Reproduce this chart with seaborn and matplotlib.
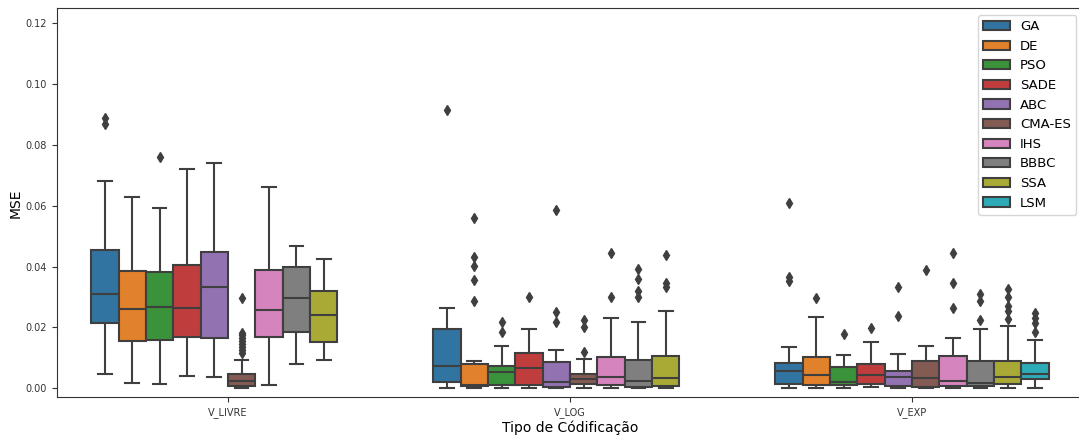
import matplotlib
matplotlib.use("Agg")
import matplotlib.pyplot as plt
import seaborn as sns
import pandas as pd

categories = ["V_LIVRE", "V_LOG", "V_EXP"]
algorithms = ["GA", "DE", "PSO", "SADE", "ABC", "CMA-ES", "IHS", "BBBC", "SSA", "LSM"]

# box summaries: (low whisker, q1, median, q3, high whisker)
v_livre_stats = {
    "GA": (0.0046, 0.0214, 0.0311, 0.0455, 0.0681),
    "DE": (0.0018, 0.0154, 0.0261, 0.0386, 0.0630),
    "PSO": (0.0013, 0.0158, 0.0266, 0.0382, 0.0594),
    "SADE": (0.0041, 0.0168, 0.0265, 0.0405, 0.0721),
    "ABC": (0.0037, 0.0166, 0.0333, 0.0448, 0.0740),
    "CMA-ES": (0.0000, 0.0007, 0.0024, 0.0046, 0.0094),
    "IHS": (0.0009, 0.0169, 0.0256, 0.0389, 0.0662),
    "BBBC": (0.0081, 0.0185, 0.0298, 0.0399, 0.0468),
    "SSA": (0.0093, 0.0151, 0.0241, 0.0320, 0.0426),
}
v_log_stats = {
    "GA": (0.0000, 0.0022, 0.0073, 0.0196, 0.0263),
    "DE": (0.0000, 0.0008, 0.0011, 0.0079, 0.0091),
    "PSO": (0.0000, 0.0010, 0.0053, 0.0074, 0.0140),
    "SADE": (0.0000, 0.0010, 0.0068, 0.0116, 0.0196),
    "ABC": (0.0000, 0.0005, 0.0020, 0.0087, 0.0127),
    "CMA-ES": (0.0000, 0.0013, 0.0030, 0.0047, 0.0097),
    "IHS": (0.0000, 0.0009, 0.0038, 0.0104, 0.0230),
    "BBBC": (0.0000, 0.0003, 0.0025, 0.0093, 0.0219),
    "SSA": (0.0000, 0.0008, 0.0034, 0.0107, 0.0255),
}
v_exp_stats = {
    "GA": (0.0000, 0.0013, 0.0055, 0.0083, 0.0134),
    "DE": (0.0000, 0.0010, 0.0043, 0.0103, 0.0235),
    "PSO": (0.0000, 0.0011, 0.0020, 0.0070, 0.0110),
    "SADE": (0.0003, 0.0015, 0.0043, 0.0078, 0.0152),
    "ABC": (0.0000, 0.0007, 0.0036, 0.0057, 0.0113),
    "CMA-ES": (0.0000, 0.0003, 0.0033, 0.0090, 0.0140),
    "IHS": (0.0000, 0.0008, 0.0025, 0.0106, 0.0166),
    "BBBC": (0.0000, 0.0008, 0.0017, 0.0089, 0.0195),
    "SSA": (0.0000, 0.0013, 0.0036, 0.0090, 0.0205),
    "LSM": (0.0000, 0.0030, 0.0047, 0.0084, 0.0160),
}

# outliers
v_livre_out = {
    "GA": [0.087, 0.089],
    "PSO": [0.0761],
    "CMA-ES": [0.0115, 0.0125, 0.0135, 0.0145, 0.0155, 0.0165, 0.0175, 0.0181, 0.0296],
}
v_log_out = {
    "GA": [0.0917],
    "DE": [0.0287, 0.0356, 0.0403, 0.0431, 0.0561],
    "PSO": [0.0184, 0.0219],
    "SADE": [0.0301],
    "ABC": [0.0219, 0.0251, 0.0585],
    "CMA-ES": [0.0119, 0.0203, 0.0225],
    "IHS": [0.0301, 0.0446],
    "BBBC": [0.0300, 0.0321, 0.0360, 0.0392],
    "SSA": [0.0334, 0.0347, 0.0437],
}
v_exp_out = {
    "GA": [0.0354, 0.0367, 0.0611],
    "DE": [0.0298],
    "PSO": [0.0177],
    "SADE": [0.0199],
    "ABC": [0.0238, 0.0332],
    "CMA-ES": [0.0388],
    "IHS": [0.0265, 0.0346, 0.0446],
    "BBBC": [0.0224, 0.0286, 0.0309],
    "SSA": [0.0229, 0.0255, 0.0271, 0.0299, 0.0327],
    "LSM": [0.0184, 0.0216, 0.0230, 0.0247],
}

all_stats = {"V_LIVRE": v_livre_stats, "V_LOG": v_log_stats, "V_EXP": v_exp_stats}
all_out = {"V_LIVRE": v_livre_out, "V_LOG": v_log_out, "V_EXP": v_exp_out}

# long table whose quartiles / whiskers reproduce the summaries above
rows = []
for cat in categories:
    for alg, (lo, q1, med, q3, hi) in all_stats[cat].items():
        outs = all_out[cat].get(alg, [])
        k = len(outs) + 1
        vals = [lo] + [q1] * k + [med] * k + [q3] * k + [hi] + outs
        for v in vals:
            rows.append({"Tipo": cat, "Algoritmo": alg, "MSE": v})
df = pd.DataFrame(rows)

plt.rcParams["axes.edgecolor"] = "#333333"
plt.rcParams["xtick.color"] = "#333333"
plt.rcParams["ytick.color"] = "#333333"

fig = plt.figure(figsize=(10.79, 4.37), dpi=100)
# right spine sits just outside the saved image, as in the original crop
ax = fig.add_axes([0.0528, 0.0908, 0.9509, 0.8902])

sns.boxplot(data=df, x="Tipo", y="MSE", hue="Algoritmo", order=categories,
            hue_order=algorithms, palette="tab10", saturation=0.75,
            linecolor="#3f3f3f", linewidth=1.5, width=0.8, gap=0,
            flierprops=dict(marker="d", markersize=5, markerfacecolor="#3f3f3f",
                            markeredgecolor="#3f3f3f"),
            ax=ax)

ax.set_ylim(-0.003, 0.125)
ax.set_xlim(-0.5, 2.5)
ax.set_xlabel("Tipo de Códificação", fontsize=10, labelpad=1.5)
ax.set_ylabel("MSE", fontsize=10, labelpad=2)
ax.tick_params(axis="both", labelsize=7)
sns.move_legend(ax, "upper right", title=None, fontsize=9.5)

plt.savefig("out.png", dpi=100)
